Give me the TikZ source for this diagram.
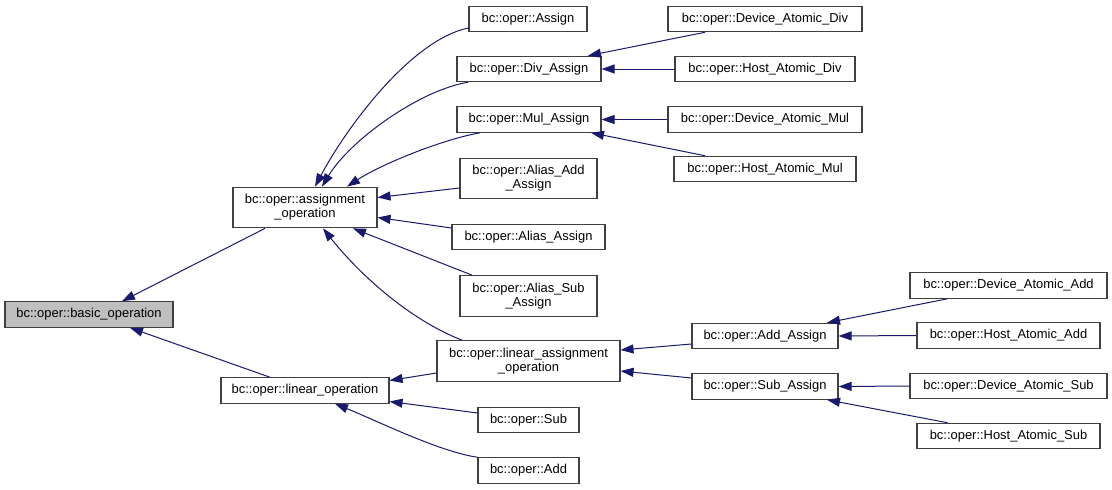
\documentclass[tikz,border=0pt]{standalone}
\usepackage{fontspec}
\setmainfont{Liberation Sans}
\usetikzlibrary{arrows.meta,calc}
\definecolor{edgec}{HTML}{191970}
\definecolor{boxc}{HTML}{404040}
\definecolor{basefill}{HTML}{BFBFBF}
\begin{document}
\begin{tikzpicture}[x=0.75pt,y=-0.75pt,
  cls/.style={draw=boxc,line width=0.8pt,fill=white,inner sep=0pt,
    font=\fontsize{9.7}{10.7}\selectfont,align=center,minimum height=19.1pt},
  two/.style={minimum height=30.5pt},
  edge/.style={draw=edgec,line width=0.75pt,{Triangle[length=9.75pt,width=6.75pt]}-}]
\fill[white] (0,0) rectangle (1112,489);
\useasboundingbox (0,0) rectangle (1112,489);
% nodes
\node[cls,fill=basefill,minimum width=126pt] (basic) at (89,314.5) {bc::oper::basic\_operation};
\node[cls,two,minimum width=108pt] (asg) at (305,207.5) {bc::oper::assignment\\\_operation};
\node[cls,minimum width=126pt] (linop) at (305,390.5) {bc::oper::linear\_operation};
\node[cls,minimum width=88.5pt] (Assign) at (528,19) {bc::oper::Assign};
\node[cls,minimum width=108pt] (DivA) at (529,69) {bc::oper::Div\_Assign};
\node[cls,minimum width=108pt] (MulA) at (529,119.5) {bc::oper::Mul\_Assign};
\node[cls,two,minimum width=102.75pt] (AliasAdd) at (528.5,178.5) {bc::oper::Alias\_Add\\\_Assign};
\node[cls,minimum width=114.75pt] (AliasAssign) at (528.5,237) {bc::oper::Alias\_Assign};
\node[cls,two,minimum width=102.75pt] (AliasSub) at (528.5,296) {bc::oper::Alias\_Sub\\\_Assign};
\node[cls,two,minimum width=137.25pt] (linAsg) at (528.5,361) {bc::oper::linear\_assignment\\\_operation};
\node[cls,minimum width=75.75pt] (Sub) at (528.5,420) {bc::oper::Sub};
\node[cls,minimum width=75.75pt] (Add) at (528.5,470.5) {bc::oper::Add};
\node[cls,minimum width=145.5pt] (DevDiv) at (765,19) {bc::oper::Device\_Atomic\_Div};
\node[cls,minimum width=135pt] (HostDiv) at (765,69) {bc::oper::Host\_Atomic\_Div};
\node[cls,minimum width=145.5pt] (DevMul) at (765,119.5) {bc::oper::Device\_Atomic\_Mul};
\node[cls,minimum width=136.5pt] (HostMul) at (765,169) {bc::oper::Host\_Atomic\_Mul};
\node[cls,minimum width=109.5pt] (AddA) at (765,336) {bc::oper::Add\_Assign};
\node[cls,minimum width=109.5pt] (SubA) at (765,386.5) {bc::oper::Sub\_Assign};
\node[cls,minimum width=147.75pt] (DevAdd) at (1008.5,285.5) {bc::oper::Device\_Atomic\_Add};
\node[cls,minimum width=137.25pt] (HostAdd) at (1008.5,335.5) {bc::oper::Host\_Atomic\_Add};
\node[cls,minimum width=147.75pt] (DevSub) at (1008.5,386) {bc::oper::Device\_Atomic\_Sub};
\node[cls,minimum width=137.25pt] (HostSub) at (1008.5,436) {bc::oper::Host\_Atomic\_Sub};
% edges
\draw[edge] ($(basic.north)+(33,0)$) -- ($(asg.south)+(-40,0)$);
\draw[edge] ($(basic.south)+(41,0)$) -- ($(linop.north)+(-35,0)$);
\draw[edge] ($(asg.north)+(10,0)$) .. controls (345,130) and (410,40) .. ($(Assign.west)+(0,9)$);
\draw[edge] ($(asg.north)+(17,0)$) .. controls (350,140) and (420,90) .. ($(DivA.south)+(-61,0)$);
\draw[edge] ($(asg.north)+(42,0)$) .. controls (380,165) and (440,140) .. ($(MulA.south)+(-49,0)$);
\draw[edge] ($(asg.east)+(0,-10)$) -- ($(AliasAdd.west)+(0,9.5)$);
\draw[edge] ($(asg.east)+(0,10)$) -- ($(AliasAssign.west)+(0,-9)$);
\draw[edge] ($(asg.south)+(48,0)$) -- ($(AliasSub.north)+(-56.5,0)$);
\draw[edge] ($(asg.south)+(18,0)$) .. controls (360,275) and (410,320) .. ($(linAsg.north)+(-66.5,0)$);
\draw[edge] ($(linop.east)+(0,-10)$) -- ($(linAsg.west)+(0,12)$);
\draw[edge] ($(linop.east)+(0,11)$) -- ($(Sub.west)+(0,-7)$);
\draw[edge] ($(linop.south)+(30,0)$) .. controls (375,420) and (440,452) .. ($(Add.north west)+(0,0)$);
\draw[edge] ($(DivA.north)+(59,0)$) -- ($(DevDiv.south)+(-60,0)$);
\draw[edge] (DivA.east) -- (HostDiv.west);
\draw[edge] (MulA.east) -- (DevMul.west);
\draw[edge] ($(MulA.south)+(62,0)$) -- ($(HostMul.north)+(-60,0)$);
\draw[edge] ($(linAsg.east)+(0,-11)$) -- ($(AddA.west)+(0,8)$);
\draw[edge] ($(linAsg.east)+(0,10)$) -- ($(SubA.west)+(0,-8.5)$);
\draw[edge] ($(AddA.north)+(62,0)$) -- ($(DevAdd.south)+(-61,0)$);
\draw[edge] (AddA.east) -- (HostAdd.west);
\draw[edge] (SubA.east) -- (DevSub.west);
\draw[edge] ($(SubA.south)+(62,0)$) -- ($(HostSub.north)+(-61,0)$);
\end{tikzpicture}
\end{document}
